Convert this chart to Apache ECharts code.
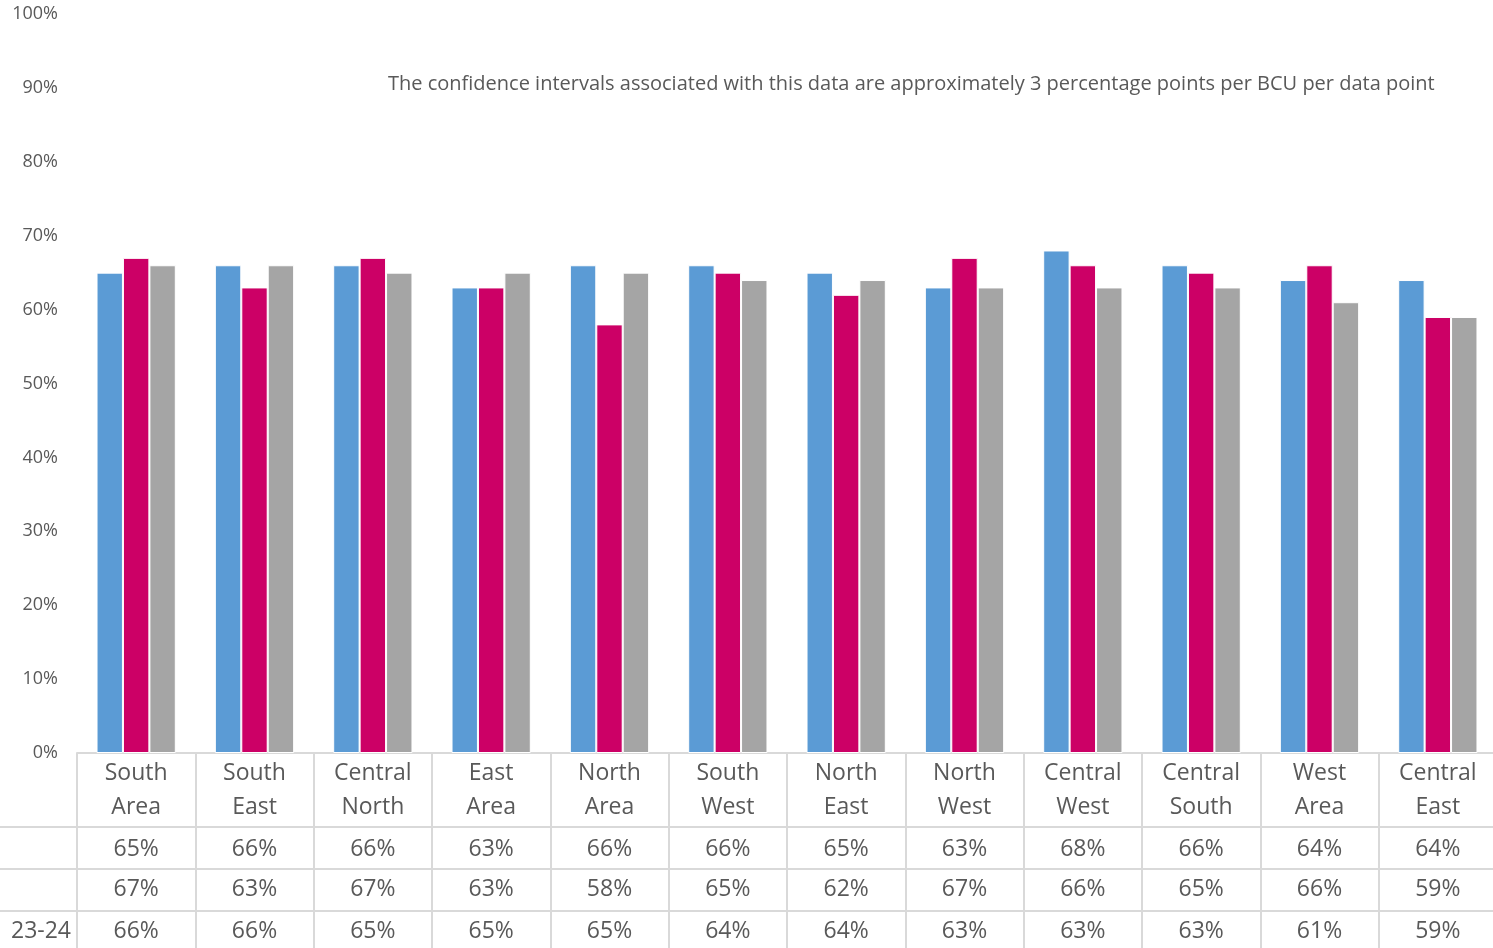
<!DOCTYPE html>
<html>
<head>
<meta charset="utf-8">
<script src="https://cdn.jsdelivr.net/npm/echarts@6/dist/echarts.min.js"></script>
<style>
  html, body { margin: 0; padding: 0; background: #fff; overflow: hidden; }
  #chart { width: 1500px; height: 948px; }
</style>
</head>
<body>
<div id="chart"></div>
<script>
// Areas along the bottom of the chart
const categories = ['South\nArea', 'South\nEast', 'Central\nNorth', 'East\nArea', 'North\nArea', 'South\nWest',
  'North\nEast', 'North\nWest', 'Central\nWest', 'Central\nSouth', 'West\nArea', 'Central\nEast'];
// Percentages for each of the three periods
const seriesA = [65, 66, 66, 63, 66, 66, 65, 63, 68, 66, 64, 64];
const seriesB = [67, 63, 67, 63, 58, 65, 62, 67, 66, 65, 66, 59];
const seriesC = [66, 66, 65, 65, 65, 64, 64, 63, 63, 63, 61, 59];
const rowLabels = ['', '', '23-24'];
const yTicks = { min: 0, max: 100, interval: 10 };
const note = 'The confidence intervals associated with this data are approximately 3 percentage points per BCU per data point';

const FONT = '"Open Sans", sans-serif';
const TEXT = '#595959';
const RULE = '#D9D9D9';
const colors = ['#5B9BD5', '#CC0066', '#A5A5A5'];

const pct = arr => arr.map(v => v + '%');

// One hidden-line category axis per data-table row
function rowAxis(values, margin) {
  return {
    type: 'category', gridIndex: 0, position: 'bottom', data: pct(values),
    axisLine: { show: false }, axisTick: { show: false },
    axisLabel: { interval: 0, margin: margin, verticalAlign: 'middle', fontFamily: FONT, fontSize: 23, color: TEXT }
  };
}

const chart = echarts.init(document.getElementById('chart'));
const GRID = { left: 77, top: 14, width: 1420, height: 739 };
const rowLines = [827, 869, 911];

chart.setOption({
  animation: false,
  grid: GRID,
  xAxis: [
    {
      type: 'category', data: categories, position: 'bottom',
      axisLine: { lineStyle: { color: RULE, width: 2 } },
      axisTick: { show: true, length: 195, alignWithLabel: false, interval: 0, lineStyle: { color: RULE, width: 2 } },
      axisLabel: { interval: 0, margin: 37, verticalAlign: 'middle', lineHeight: 34, fontFamily: FONT, fontSize: 23, color: TEXT }
    },
    rowAxis(seriesA, 96),
    rowAxis(seriesB, 136),
    rowAxis(seriesC, 178)
  ],
  yAxis: {
    type: 'value', min: yTicks.min, max: yTicks.max, interval: yTicks.interval,
    axisLine: { show: false }, axisTick: { show: false }, splitLine: { show: false },
    axisLabel: { formatter: '{value}%', margin: 19, fontFamily: FONT, fontSize: 18, color: TEXT }
  },
  series: [seriesA, seriesB, seriesC].map((d, i) => ({
    type: 'bar', xAxisIndex: 0, data: d, barGap: '0%', barCategoryGap: '33%',
    itemStyle: { color: colors[i], borderColor: '#fff', borderWidth: 1 }
  })),
  graphic: [
    ...rowLines.map(y => ({ type: 'line', shape: { x1: 0, y1: y, x2: 1500, y2: y }, style: { stroke: RULE, lineWidth: 2 }, silent: true })),
    ...rowLabels.map((t, i) => ({
      type: 'text', x: 71, y: [849, 889, 931][i],
      style: { text: t, fontFamily: FONT, fontSize: 23, fill: TEXT, align: 'right', verticalAlign: 'middle' }
    })),
    { type: 'text', x: 388, y: 84, style: { text: note, fontFamily: FONT, fontSize: 20, fill: TEXT, align: 'left', verticalAlign: 'middle' } }
  ]
});
</script>
</body>
</html>
